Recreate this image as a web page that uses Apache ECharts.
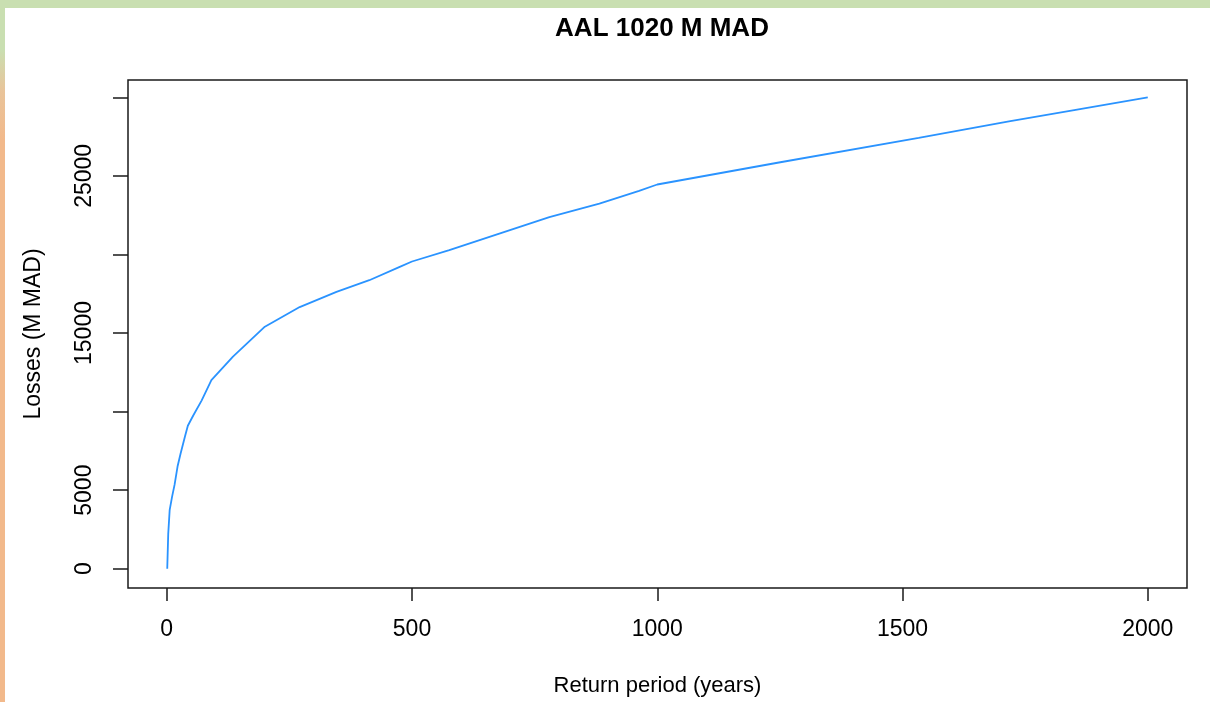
<!DOCTYPE html>
<html>
<head>
<meta charset="utf-8">
<script src="https://cdn.jsdelivr.net/npm/echarts@6/dist/echarts.min.js"></script>
<style>
  html, body { margin: 0; padding: 0; background: #ffffff; }
  #chart { position: absolute; left: 0; top: 0; width: 1210px; height: 702px; }
  #topStrip { position: absolute; left: 0; top: 0; width: 1210px; height: 8px; background: #c9dfb1; z-index: 2; }
  #leftStrip { position: absolute; left: 0; top: 0; width: 5px; height: 702px; z-index: 2;
    background: linear-gradient(to bottom, #c9dfb1 0%, #c9dfb1 7%, #e9c49a 13%, #f2b98b 20%, #f2b98b 100%); }
</style>
</head>
<body>
<div id="chart"></div>
<div id="topStrip"></div>
<div id="leftStrip"></div>
<script>
// Data
const returnPeriods = [1, 3, 6, 11, 16, 22, 28, 37, 43, 54, 71, 91, 135, 200, 271, 346, 413, 475, 500, 576, 678, 780, 882, 963, 1000, 1248, 1533, 1717, 1853, 2000];
const losses = [0, 2200, 3750, 4600, 5350, 6500, 7300, 8400, 9100, 9750, 10700, 12000, 13500, 15400, 16650, 17620, 18360, 19210, 19550, 20270, 21330, 22380, 23230, 24050, 24450, 25850, 27420, 28470, 29200, 30000];

const xTicks = [0, 500, 1000, 1500, 2000];
const yTicks = [0, 5000, 10000, 15000, 20000, 25000, 30000];
const yLabels = [0, 5000, 15000, 25000];

const titleText = 'AAL 1020 M MAD';
const xName = 'Return period (years)';
const yName = 'Losses (M MAD)';

const FONT = "'Liberation Sans', Arial, Helvetica, sans-serif";

const chart = echarts.init(document.getElementById('chart'), null, { renderer: 'canvas' });

const seriesData = returnPeriods.map((x, i) => [x, losses[i]]);

chart.setOption({
  backgroundColor: '#ffffff',
  animation: false,
  title: {
    text: titleText,
    left: 657,
    textAlign: 'center',
    top: 11,
    textStyle: { fontFamily: FONT, fontSize: 26, fontWeight: 'bold', color: '#000' }
  },
  grid: {
    left: 128, right: 23, top: 80, bottom: 113,
    show: true, borderColor: '#1a1a1a', borderWidth: 1.5, backgroundColor: 'transparent'
  },
  xAxis: {
    type: 'value',
    min: -79, max: 2080,
    name: xName,
    nameLocation: 'middle',
    nameGap: 87,
    nameTextStyle: { fontFamily: FONT, fontSize: 22, color: '#000' },
    axisLine: { show: false, onZero: false },
    splitLine: { show: false },
    axisTick: { show: true, length: 13, lineStyle: { color: '#1a1a1a', width: 1.5 }, customValues: xTicks },
    axisLabel: { fontFamily: FONT, fontSize: 23, color: '#000', margin: 30, customValues: xTicks,
      formatter: v => String(v) }
  },
  yAxis: {
    type: 'value',
    min: -1227, max: 31100,
    name: yName,
    nameLocation: 'middle',
    nameGap: 83,
    nameTextStyle: { fontFamily: FONT, fontSize: 23, color: '#000' },
    axisLine: { show: false, onZero: false },
    splitLine: { show: false },
    axisTick: { show: true, length: 15, lineStyle: { color: '#1a1a1a', width: 1.5 }, customValues: yTicks },
    axisLabel: { fontFamily: FONT, fontSize: 23, color: '#000', margin: 32, rotate: 90, customValues: yLabels,
      formatter: v => String(v) }
  },
  series: [{
    type: 'line',
    data: seriesData,
    showSymbol: false,
    smooth: false,
    lineStyle: { color: '#2a93ff', width: 1.8 }
  }]
});
</script>
</body>
</html>
